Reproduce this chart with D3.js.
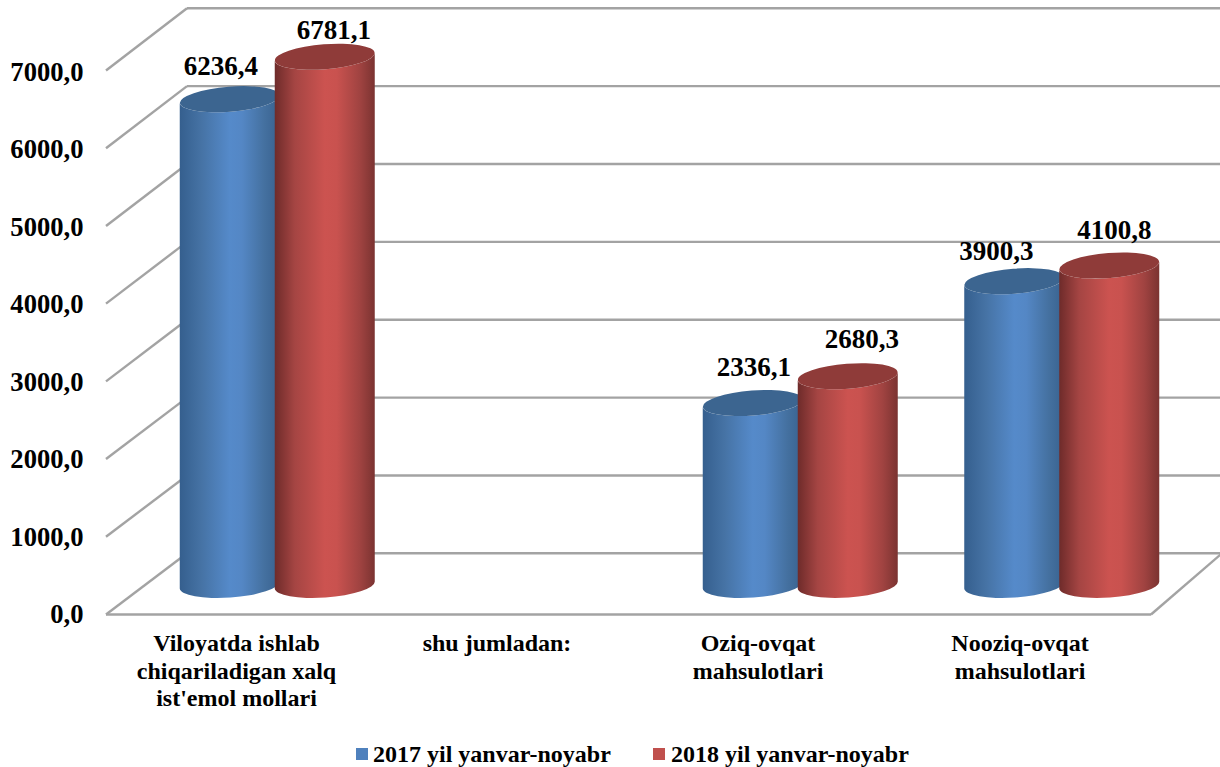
<!DOCTYPE html>
<html><head><meta charset="utf-8">
<script src="https://cdn.jsdelivr.net/npm/d3@7"></script>
<style>html,body{margin:0;background:#fff}svg{display:block}text{font-family:"Liberation Serif",serif;font-weight:bold;fill:#000}</style>
</head><body><div id="c"></div>
<script>
const categories=[["Viloyatda ishlab","chiqariladigan xalq","ist'emol mollari"],["shu jumladan:"],["Oziq-ovqat","mahsulotlari"],["Nooziq-ovqat","mahsulotlari"]];
const catKeys=["a","b","c","d"];
const series2017=[6236.4,null,2336.1,3900.3];
const series2018=[6781.1,null,2680.3,4100.8];
const labels2017=["6236,4",null,"2336,1","3900,3"];
const labels2018=["6781,1",null,"2680,3","4100,8"];
const seriesNames=["2017 yil yanvar-noyabr","2018 yil yanvar-noyabr"];
const ticks=[0,1000,2000,3000,4000,5000,6000,7000];
const tickLabels=["0,0","1000,0","2000,0","3000,0","4000,0","5000,0","6000,0","7000,0"];

const W=1220,H=767;
const svg=d3.select("#c").append("svg").attr("width",W).attr("height",H);
const yFront=d3.scaleLinear().domain([0,7000]).range([614.5,70.5]);
const yBack=d3.scaleLinear().domain([0,7000]).range([553.3,8.3]);
const yBar=d3.scaleLinear().domain([0,7000]).range([585,39.7]);
const yTick=d3.scaleLinear().domain([0,7000]).range([623,81]);
const x0=d3.scaleBand().domain(catKeys).range([146.5,1192.5]);
const bw=95;
const rx=50,ry=12.5,rotT=-4.5,rotB=-4;
const dyT=rx*Math.sin(-rotT*Math.PI/180),dyB=rx*Math.sin(-rotB*Math.PI/180);
const defs=svg.append("defs");
function grad(id,stops){const g=defs.append("linearGradient").attr("id",id);
 stops.forEach(s=>g.append("stop").attr("offset",s[0]).attr("stop-color",s[1]));}
grad("gb",[[0,"#355f8e"],[.22,"#4673a5"],[.5,"#558aca"],[.62,"#5487c5"],[.85,"#44709f"],[1,"#38618f"]]);
grad("gr",[[0,"#6e2b2a"],[.2,"#a54543"],[.5,"#cc5350"],[.62,"#c9524f"],[.85,"#a04341"],[1,"#7b3331"]]);

const grid="#a3a3a3";
const g=svg.append("g").attr("stroke",grid).attr("stroke-width",2.4).attr("fill","none");
ticks.forEach(t=>{
 g.append("line").attr("x1",106).attr("y1",yFront(t)).attr("x2",187).attr("y2",yBack(t));
 g.append("line").attr("x1",187).attr("y1",yBack(t)).attr("x2",W).attr("y2",yBack(t));
});
g.append("line").attr("x1",106).attr("y1",yFront(0)).attr("x2",1151).attr("y2",yFront(0));
g.append("line").attr("x1",1151).attr("y1",yFront(0)).attr("x2",1222).attr("y2",yBack(0));

function cyl(cx,v,fill,top){
 const yt=yBar(v),yb=yBar(0);
 svg.append("path").attr("fill",`url(#${fill})`).attr("d",
  `M${cx-rx},${yt+dyT}L${cx-rx},${yb+dyB}A${rx},${ry} ${rotB} 0 0 ${cx+rx},${yb-dyB}L${cx+rx},${yt-dyT}A${rx},${ry} ${rotT} 0 1 ${cx-rx},${yt+dyT}Z`);
 svg.append("ellipse").attr("cx",cx).attr("cy",yt).attr("rx",rx).attr("ry",ry)
  .attr("transform",`rotate(${rotT} ${cx} ${yt})`).attr("fill",top);
}
const nudge2017=[[-9,-24],null,[1,-27],[-18,-21]];
const nudge2018=[[9,-18],null,[14,-28],[5,-27]];
const centers=catKeys.map(k=>x0(k)+x0.bandwidth()/2);
catKeys.forEach((k,i)=>{
 if(series2017[i]!=null) cyl(centers[i]-bw/2,series2017[i],"gb","#3c6590");
});
catKeys.forEach((k,i)=>{
 if(series2018[i]!=null) cyl(centers[i]+bw/2,series2018[i],"gr","#8f3b39");
});
catKeys.forEach((k,i)=>{
 const c=centers[i];
 if(series2017[i]==null) return;
 svg.append("text").attr("x",c-bw/2+nudge2017[i][0]).attr("y",yBar(series2017[i])+nudge2017[i][1]).attr("text-anchor","middle").attr("font-size",27).text(labels2017[i]);
 svg.append("text").attr("x",c+bw/2+nudge2018[i][0]).attr("y",yBar(series2018[i])+nudge2018[i][1]).attr("text-anchor","middle").attr("font-size",27).text(labels2018[i]);
});
ticks.forEach((t,i)=>{
 svg.append("text").attr("x",83.5).attr("y",yTick(t)).attr("text-anchor","end").attr("font-size",26.6).text(tickLabels[i]);
});
const catX=[236.5,497,758,1020];
categories.forEach((lines,i)=>{
 lines.forEach((l,j)=>svg.append("text").attr("x",catX[i]).attr("y",651+j*27.5).attr("text-anchor","middle").attr("font-size",24).text(l));
});
const lg=[[356,373,"#4f81bd"],[653,671,"#c0504d"]];
lg.forEach((d,i)=>{
 svg.append("rect").attr("x",d[0]).attr("y",748).attr("width",12).attr("height",12).attr("fill",d[2]);
 svg.append("text").attr("x",d[1]).attr("y",762).attr("font-size",24).text(seriesNames[i]);
});
</script></body></html>
